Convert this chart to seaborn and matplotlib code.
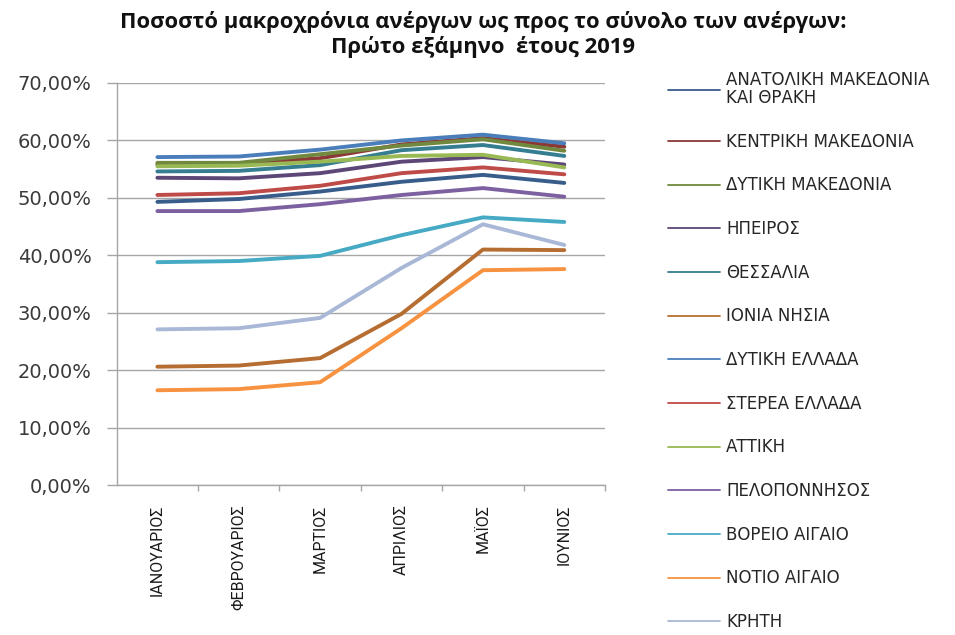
import matplotlib
matplotlib.use("Agg")
import matplotlib.pyplot as plt
from matplotlib.ticker import FixedLocator, FuncFormatter
import seaborn as sns
import pandas as pd

# ---- data (percent) ----
months = ["ΙΑΝΟΥΑΡΙΟΣ", "ΦΕΒΡΟΥΑΡΙΟΣ", "ΜΑΡΤΙΟΣ", "ΑΠΡΙΛΙΟΣ", "ΜΑΪΟΣ", "ΙΟΥΝΙΟΣ"]

regions = [
    "ΑΝΑΤΟΛΙΚΗ ΜΑΚΕΔΟΝΙΑ\nΚΑΙ ΘΡΑΚΗ",
    "ΚΕΝΤΡΙΚΗ ΜΑΚΕΔΟΝΙΑ",
    "ΔΥΤΙΚΗ ΜΑΚΕΔΟΝΙΑ",
    "ΗΠΕΙΡΟΣ",
    "ΘΕΣΣΑΛΙΑ",
    "ΙΟΝΙΑ ΝΗΣΙΑ",
    "ΔΥΤΙΚΗ ΕΛΛΑΔΑ",
    "ΣΤΕΡΕΑ ΕΛΛΑΔΑ",
    "ΑΤΤΙΚΗ",
    "ΠΕΛΟΠΟΝΝΗΣΟΣ",
    "ΒΟΡΕΙΟ ΑΙΓΑΙΟ",
    "ΝΟΤΙΟ ΑΙΓΑΙΟ",
    "ΚΡΗΤΗ",
]

anat_makedonia = [49.3, 49.8, 51.1, 52.8, 54.0, 52.6]
kentr_makedonia = [55.8, 55.9, 56.9, 59.3, 60.4, 58.9]
dyt_makedonia = [56.1, 56.1, 57.6, 59.1, 60.2, 58.2]
ipeiros = [53.5, 53.4, 54.3, 56.3, 57.1, 55.8]
thessalia = [54.6, 54.7, 55.7, 58.3, 59.2, 57.3]
ionia = [20.6, 20.8, 22.1, 29.8, 41.0, 40.9]
dyt_ellada = [57.1, 57.2, 58.4, 60.0, 61.0, 59.5]
sterea = [50.5, 50.8, 52.1, 54.3, 55.3, 54.1]
attiki = [55.5, 55.6, 56.3, 57.3, 57.5, 55.3]
peloponnisos = [47.7, 47.7, 48.9, 50.5, 51.7, 50.2]
voreio = [38.8, 39.0, 39.9, 43.5, 46.6, 45.8]
notio = [16.5, 16.7, 17.9, 27.3, 37.4, 37.6]
kriti = [27.1, 27.3, 29.1, 37.8, 45.4, 41.8]

series = [anat_makedonia, kentr_makedonia, dyt_makedonia, ipeiros, thessalia,
          ionia, dyt_ellada, sterea, attiki, peloponnisos, voreio, notio, kriti]

colors = ["#385D8A", "#8C3836", "#71893F", "#5C4776", "#357D91", "#B66D31",
          "#4A7EBB", "#BE4B48", "#98B954", "#7D60A0", "#46AAC5", "#F69240",
          "#A9B8D6"]

title_1 = "Ποσοστό μακροχρόνια ανέργων ως προς το σύνολο των ανέργων:"
title_2 = "Πρώτο εξάμηνο  έτους 2019"

# ---- long table ----
rows = []
for reg, vals in zip(regions, series):
    for m, v in zip(months, vals):
        rows.append({"month": m, "value": v, "region": reg})
df = pd.DataFrame(rows)

sns.set_style("white")
plt.rcParams["font.family"] = ["DejaVu Sans"]

fig = plt.figure(figsize=(9.55, 6.35), dpi=100)
ax = fig.add_axes([0.1222, 0.2362, 0.5113, 0.6331])

sns.lineplot(data=df, x="month", y="value", hue="region", hue_order=regions,
             palette=colors, linewidth=2.8, sort=False, ax=ax, legend=False)

ax.set_xlim(-0.5, len(months) - 0.5)
ax.set_ylim(0, 70)
ax.set_yticks(range(0, 71, 10))
ax.yaxis.set_major_formatter(FuncFormatter(lambda v, p: f"{v:.2f}".replace(".", ",") + "%"))
ax.set_xlabel("")
ax.set_ylabel("")

ax.yaxis.grid(True, color="#A6A6A6", linewidth=1.0)
ax.set_axisbelow(True)
for s in ["top", "right"]:
    ax.spines[s].set_visible(False)
for s in ["left", "bottom"]:
    ax.spines[s].set_color("#A6A6A6")
    ax.spines[s].set_linewidth(1.0)

ax.tick_params(axis="y", which="major", direction="out", length=7, width=1,
               color="#A6A6A6", pad=11, labelcolor="#3a3a3a", left=True)
for lab in ax.get_yticklabels():
    lab.set_fontfamily(["DejaVu Sans"])
    lab.set_fontsize(14)

ax.set_xticks(range(len(months)))
ax.set_xticklabels(months, rotation=90, fontsize=11.5,
                   family=["Liberation Sans Narrow", "Roboto", "DejaVu Sans"], color="#1a1a1a")
ax.tick_params(axis="x", which="major", length=0, pad=14)
ax.xaxis.set_minor_locator(FixedLocator([i + 0.5 for i in range(len(months))]))
ax.tick_params(axis="x", which="minor", direction="out", length=4, width=1,
               color="#A6A6A6", bottom=True)

# legend
handles = [plt.Line2D([], [], color=c, linewidth=1.3) for c in colors]
leg = fig.legend(handles, regions, loc="upper left", bbox_to_anchor=(668 / 955, 1 - 71 / 635),
                 frameon=False, prop={"family": "DejaVu Sans", "size": 12},
                 handlelength=3.1, handletextpad=0.4,
                 labelspacing=1.54, borderpad=0, borderaxespad=0)
leg.get_texts()[0].set_linespacing(1.0)

fig.text(0.506, 1 - 22 / 635, title_1, ha="center", va="center", fontsize=15.8,
         fontweight="bold", family=["Open Sans", "DejaVu Sans"], color="#111111")
fig.text(0.506, 1 - 47 / 635, title_2, ha="center", va="center", fontsize=15.8,
         fontweight="bold", family=["Open Sans", "DejaVu Sans"], color="#111111")

fig.savefig("out.png", dpi=100)
